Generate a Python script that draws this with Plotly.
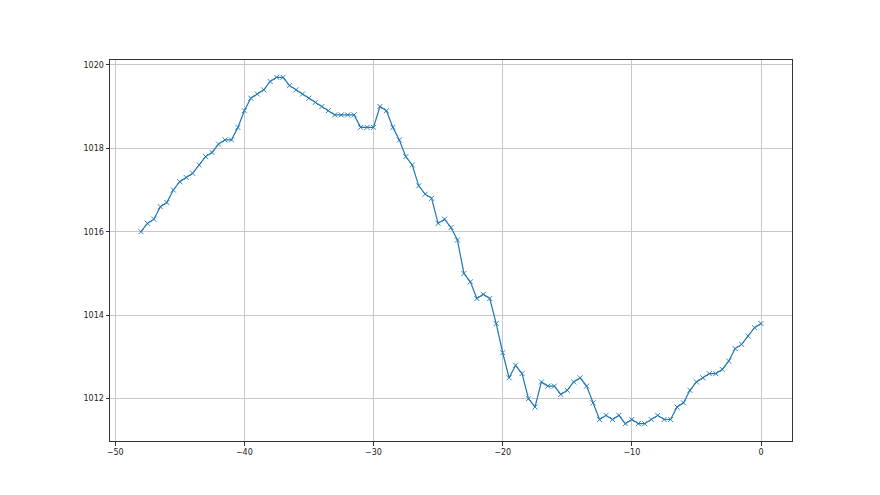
import plotly.graph_objects as go

hours = [-48 + 0.5 * i for i in range(97)]
pressure = [
    1016.0, 1016.2, 1016.3, 1016.6, 1016.7, 1017.0, 1017.2, 1017.3, 1017.4, 1017.6,
    1017.8, 1017.9, 1018.1, 1018.2, 1018.2, 1018.5, 1018.9, 1019.2, 1019.3, 1019.4,
    1019.6, 1019.7, 1019.7, 1019.5, 1019.4, 1019.3, 1019.2, 1019.1, 1019.0, 1018.9,
    1018.8, 1018.8, 1018.8, 1018.8, 1018.5, 1018.5, 1018.5, 1019.0, 1018.9, 1018.5,
    1018.2, 1017.8, 1017.6, 1017.1, 1016.9, 1016.8, 1016.2, 1016.3, 1016.1, 1015.8,
    1015.0, 1014.8, 1014.4, 1014.5, 1014.4, 1013.8, 1013.1, 1012.5, 1012.8, 1012.6,
    1012.0, 1011.8, 1012.4, 1012.3, 1012.3, 1012.1, 1012.2, 1012.4, 1012.5, 1012.3,
    1011.9, 1011.5, 1011.6, 1011.5, 1011.6, 1011.4, 1011.5, 1011.4, 1011.4, 1011.5,
    1011.6, 1011.5, 1011.5, 1011.8, 1011.9, 1012.2, 1012.4, 1012.5, 1012.6, 1012.6,
    1012.7, 1012.9, 1013.2, 1013.3, 1013.5, 1013.7, 1013.8,
]
x_ticks = [-50, -40, -30, -20, -10, 0]
y_ticks = [1012, 1014, 1016, 1018, 1020]

fig = go.Figure()
fig.add_trace(go.Scatter(
    x=hours, y=pressure, mode="lines+markers",
    line=dict(color="#1f77b4", width=1.2),
    marker=dict(symbol="x-thin", size=5, line=dict(color="#1f77b4", width=0.9)),
    showlegend=False,
))

axis_common = dict(
    showgrid=True, gridcolor="#c8c8c8", gridwidth=0.8,
    showline=True, linecolor="#333333", linewidth=1, mirror=True,
    ticks="outside", ticklen=3.5, tickcolor="#333333", tickwidth=0.8,
    zeroline=False,
    tickfont=dict(family="DejaVu Sans", size=8, color="#222222"),
)
fig.update_xaxes(range=[-50.4, 2.4], tickvals=x_ticks, ticktext=[("\u2212" + str(-v)) if v < 0 else str(v) for v in x_ticks], **axis_common)
fig.update_yaxes(range=[1010.985, 1020.115], tickvals=y_ticks, **axis_common)

fig.update_layout(
    width=880, height=495,
    margin=dict(l=102, r=96, t=52, b=62),
    paper_bgcolor="white", plot_bgcolor="white",
)
fig.write_html("out.html")
